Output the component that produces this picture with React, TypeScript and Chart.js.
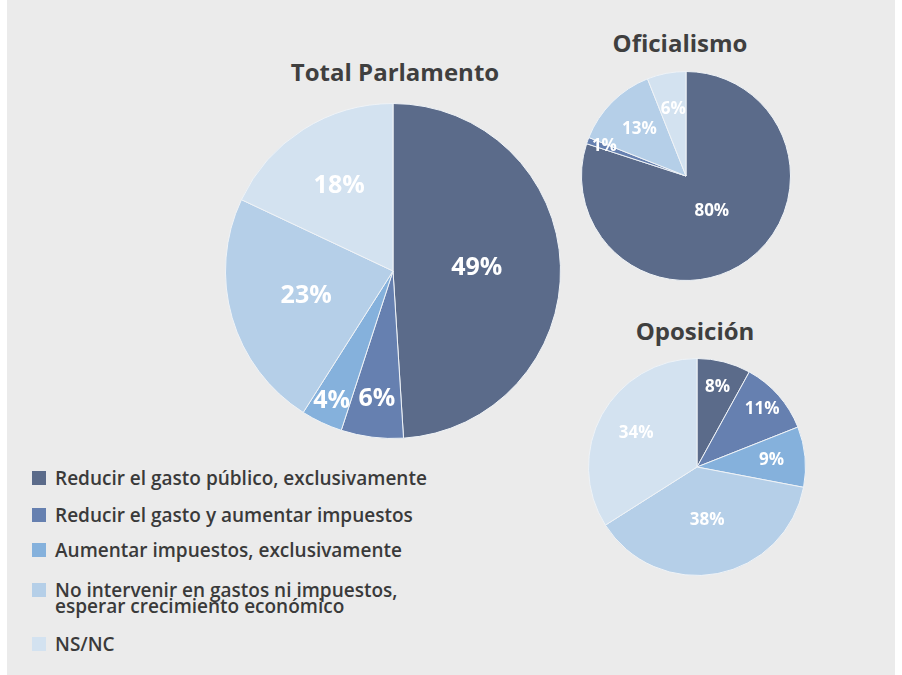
import React, { useEffect, useRef } from "react";
import { Chart, registerables } from "chart.js";

Chart.register(...registerables);

const categories = [
  "Reducir el gasto público, exclusivamente",
  "Reducir el gasto y aumentar impuestos",
  "Aumentar impuestos, exclusivamente",
  "No intervenir en gastos ni impuestos, esperar crecimiento económico",
  "NS/NC",
];
const legendLines = [
  ["Reducir el gasto público, exclusivamente"],
  ["Reducir el gasto y aumentar impuestos"],
  ["Aumentar impuestos, exclusivamente"],
  ["No intervenir en gastos ni impuestos,", "esperar crecimiento económico"],
  ["NS/NC"],
];
const totalValues = [49, 6, 4, 23, 18];
const oficialismoValues = [80, 1, 0, 13, 6];
const oposicionValues = [8, 11, 9, 38, 34];

const colors = ["#5b6b8a", "#6680b0", "#85b1dc", "#b5cfe8", "#d3e2f0"];
const FONT = "'Open Sans', 'DejaVu Sans', sans-serif";

const labelPlugin = {
  id: "sliceLabels",
  afterDatasetsDraw(chart: any) {
    const opts = chart.options.plugins.sliceLabels;
    const ctx = chart.ctx;
    const meta = chart.getDatasetMeta(0);
    const data = chart.data.datasets[0].data;
    ctx.save();
    ctx.fillStyle = "#ffffff";
    ctx.font = `700 ${opts.size}px ${FONT}`;
    ctx.textAlign = "center";
    ctx.textBaseline = "middle";
    meta.data.forEach((arc: any, i: number) => {
      const v = data[i];
      if (!v) return;
      const p = arc.getProps(["x", "y", "startAngle", "endAngle", "outerRadius"], true);
      const mid = (p.startAngle + p.endAngle) / 2;
      const r = p.outerRadius * opts.factors[i];
      ctx.fillText(v + "%", p.x + Math.cos(mid) * r, p.y + Math.sin(mid) * r);
    });
    ctx.restore();
  },
};

function Pie(props: { values: number[]; factors: number[]; size: number; left: number; top: number; fontSize: number }) {
  const ref = useRef<HTMLCanvasElement>(null);
  useEffect(() => {
    const chart = new Chart(ref.current!, {
      type: "pie",
      data: {
        labels: categories,
        datasets: [
          {
            data: props.values,
            backgroundColor: colors,
            borderColor: "#eef2f6",
            borderWidth: 1,
          },
        ],
      },
      options: {
        animation: false,
        responsive: false,
        maintainAspectRatio: false,
        layout: { padding: 0 },
        plugins: {
          legend: { display: false },
          tooltip: { enabled: false },
          sliceLabels: { size: props.fontSize, factors: props.factors },
        } as any,
      },
      plugins: [labelPlugin],
    });
    return () => chart.destroy();
  }, []);
  return (
    <canvas
      ref={ref}
      width={props.size}
      height={props.size}
      style={{ position: "absolute", left: props.left, top: props.top, width: props.size, height: props.size }}
    />
  );
}

const titleStyle: React.CSSProperties = {
  position: "absolute",
  fontFamily: FONT,
  fontWeight: 700,
  color: "#3f3f3f",
  whiteSpace: "nowrap",
  transform: "translateX(-50%)",
  lineHeight: 1,
};

const legendTops = [478, 515, 550, 590, 644];

export default function App() {
  return (
    <div style={{ position: "fixed", left: 0, top: 0, width: 902, height: 675, background: "#ffffff" }}>
      <div style={{ position: "absolute", left: 7, top: 0, width: 888, height: 675, background: "#ebebeb" }} />
      <div style={{ ...titleStyle, left: 395, top: 60, fontSize: 24 }}>Total Parlamento</div>
      <div style={{ ...titleStyle, left: 680, top: 31, fontSize: 24 }}>Oficialismo</div>
      <div style={{ ...titleStyle, left: 695, top: 319, fontSize: 24 }}>Oposición</div>
      <Pie values={totalValues} factors={[0.5, 0.77, 0.86, 0.54, 0.6]} size={336} left={225} top={103} fontSize={25} />
      <Pie values={oficialismoValues} factors={[0.42, 0.83, 0.6, 0.63, 0.65]} size={210} left={581} top={71} fontSize={17} />
      <Pie values={oposicionValues} factors={[0.76, 0.8, 0.69, 0.5, 0.64]} size={218} left={588} top={358} fontSize={17} />
      {legendLines.map((lines, i) => (
        <React.Fragment key={i}>
          <div
            style={{
              position: "absolute",
              left: 32,
              top: legendTops[i] - 7,
              width: 14,
              height: 14,
              background: colors[i],
            }}
          />
          {lines.map((l, j) => (
            <div
              key={j}
              style={{
                position: "absolute",
                left: 55,
                top: legendTops[i] + j * 16 - 11,
                height: 22,
                lineHeight: "22px",
                fontFamily: FONT,
                fontWeight: 600,
                fontSize: 19,
                color: "#3a3a3a",
                whiteSpace: "nowrap",
              }}
            >
              {l}
            </div>
          ))}
        </React.Fragment>
      ))}
    </div>
  );
}
